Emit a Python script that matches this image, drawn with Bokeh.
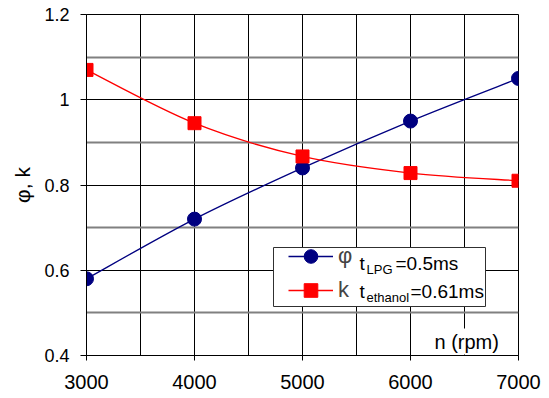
import numpy as np
from bokeh.plotting import figure
from bokeh.models import (FixedTicker, Range1d, Label, BoxAnnotation, Legend,
                          LegendItem)
from bokeh.embed import file_html
from bokeh.resources import INLINE

# ---- data ----
rpm = [3000, 4000, 5000, 6000, 7000]
phi = [0.58, 0.72, 0.84, 0.95, 1.05]
k = [1.07, 0.945, 0.867, 0.828, 0.81]

x_ticks = [3000, 4000, 5000, 6000, 7000]
x_grid = [3000, 3500, 4000, 4500, 5000, 5500, 6000, 6500, 7000]
y_ticks = [0.4, 0.6, 0.8, 1.0, 1.2]
y_minor = [0.5, 0.7, 0.9, 1.1]

FONT = "Liberation Sans"


def smooth(xs, ys):
    """Catmull-Rom style bezier segments through the data points."""
    x = np.asarray(xs, float)
    y = np.asarray(ys, float)
    xp = np.concatenate([[x[0]], x, [x[-1]]])
    yp = np.concatenate([[y[0]], y, [y[-1]]])
    n = len(x)
    d = dict(x0=[], y0=[], x1=[], y1=[], cx0=[], cy0=[], cx1=[], cy1=[])
    for i in range(n - 1):
        j = i + 1
        d["x0"].append(xp[j]); d["y0"].append(yp[j])
        d["x1"].append(xp[j + 1]); d["y1"].append(yp[j + 1])
        d["cx0"].append(xp[j] + (xp[j + 1] - xp[j - 1]) / 6)
        d["cy0"].append(yp[j] + (yp[j + 1] - yp[j - 1]) / 6)
        d["cx1"].append(xp[j + 1] - (xp[j + 2] - xp[j]) / 6)
        d["cy1"].append(yp[j + 1] - (yp[j + 2] - yp[j]) / 6)
    return d


p = figure(width=545, height=397,
           x_range=Range1d(3000, 7000), y_range=Range1d(0.4, 1.2),
           output_backend="svg", toolbar_location=None,
           min_border_left=86, min_border_right=27,
           min_border_top=14, min_border_bottom=42)
p.background_fill_color = "white"
p.border_fill_color = "white"
p.outline_line_color = "black"
p.outline_line_width = 1

# axes
p.xaxis.ticker = FixedTicker(ticks=x_ticks)
p.yaxis.ticker = FixedTicker(ticks=y_ticks, minor_ticks=y_minor)
for ax in (p.xaxis[0], p.yaxis[0]):
    ax.axis_line_color = "black"
    ax.major_tick_line_color = "black"
    ax.major_tick_in = 0
    ax.minor_tick_in = 0
    ax.minor_tick_out = 0
    ax.major_label_text_font = FONT
    ax.major_label_text_color = "black"
p.xaxis.major_tick_out = 5
p.yaxis.major_tick_out = 6
p.xaxis.major_label_text_font_size = "20px"
p.yaxis.major_label_text_font_size = "18px"
p.xaxis.major_label_standoff = 14
p.yaxis.major_label_standoff = 11
p.yaxis.axis_label = "φ, k"
p.yaxis.axis_label_text_font = FONT
p.yaxis.axis_label_text_font_size = "21px"
p.yaxis.axis_label_text_font_style = "normal"
p.yaxis.axis_label_text_color = "black"
p.yaxis.axis_label_standoff = 7

# grids
p.xgrid.ticker = FixedTicker(ticks=x_grid)
p.xgrid.grid_line_color = "black"
p.xgrid.grid_line_width = 1
p.ygrid.grid_line_color = "black"
p.ygrid.grid_line_width = 1
p.ygrid.minor_grid_line_color = "#808080"
p.ygrid.minor_grid_line_width = 1.8

# series
phi_curve = p.bezier(line_color="#000080", line_width=1.3, **smooth(rpm, phi))
phi_pts = p.scatter(rpm, phi, marker="circle", size=14, fill_color="#000080", line_color="#000080")
k_curve = p.bezier(line_color="#FF0000", line_width=1.3, **smooth(rpm, k))
k_pts = p.scatter(rpm, k, marker="square", size=13, fill_color="#FF0000", line_color="#FF0000")

# legend frame
box = BoxAnnotation(left=187, right=399, top=108, bottom=49,
                    left_units="screen", right_units="screen",
                    top_units="screen", bottom_units="screen",
                    fill_color="white", fill_alpha=1.0,
                    line_color="#303030", line_width=1, line_alpha=1.0)
p.add_layout(box)

legend = Legend(items=[LegendItem(label="φ", renderers=[phi_curve, phi_pts]),
                       LegendItem(label="k", renderers=[k_curve, k_pts])],
                location=(202, 48), padding=0, spacing=-4, margin=0,
                glyph_height=34, glyph_width=45, label_standoff=5,
                label_text_font=FONT, label_text_font_size="22px",
                label_height=20,
                border_line_color=None, background_fill_alpha=0)
p.add_layout(legend)

def lab(text, x, y, size, baseline="middle", **kw):
    p.add_layout(Label(text=text, x=x, y=y, x_units="screen", y_units="screen",
                       text_font=FONT, text_font_size=size, text_color="black",
                       text_baseline=baseline, **kw))

lab("t", 273, 92, "19px")
lab("LPG", 280, 86, "13px")
lab("=0.5ms", 309, 92, "19px")
lab("t", 273, 64, "19px")
lab("ethanol", 280, 58, "13px")
lab("=0.61ms", 324, 64, "19px")

lab("n (rpm)", 346, 14, "20px", background_fill_color="white", padding=2)

open("out.html", "w").write(file_html(p, INLINE))
